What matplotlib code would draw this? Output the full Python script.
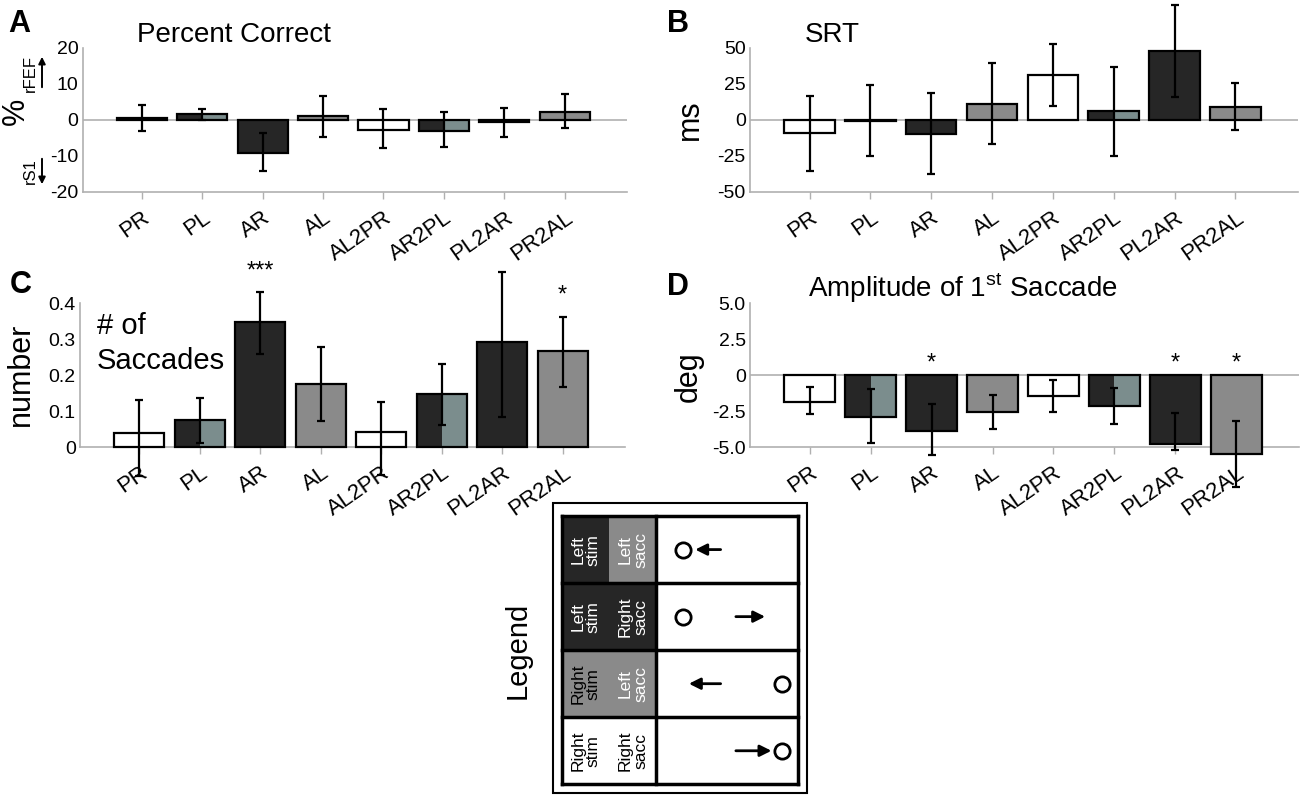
import matplotlib
matplotlib.use('Agg')
import matplotlib.pyplot as plt
import numpy as np

plt.rcParams['font.family'] = ['Liberation Sans', 'DejaVu Sans']
plt.rcParams['mathtext.fontset'] = 'custom'
plt.rcParams['mathtext.rm'] = 'Liberation Sans'

conds = ['PR', 'PL', 'AR', 'AL', 'AL2PR', 'AR2PL', 'PL2AR', 'PR2AL']
kinds = ['white', 'split', 'dark', 'gray', 'white', 'split', 'dark', 'gray']

# A: percent correct (%)
pc_val = [0.5, 1.6, -9.3, 1.1, -2.8, -3.0, -0.6, 2.1]
pc_lo = [3.5, 1.5, 4.8, 5.9, 4.9, 4.4, 4.1, 4.4]
pc_hi = [3.7, 1.5, 5.6, 5.7, 5.8, 5.1, 3.9, 5.2]
pc_ticks = [-20, -10, 0, 10, 20]

# B: SRT (ms)
srt_val = [-9.3, -0.8, -9.5, 11.4, 31.0, 6.0, 48.0, 9.0]
srt_lo = [26, 24, 28, 28, 21.5, 30.8, 32, 15.8]
srt_hi = [26.3, 24.8, 28.5, 28.3, 22, 30.8, 32, 16.7]
srt_ticks = [-50, -25, 0, 25, 50]

# C: number of saccades
ns_val = [0.040, 0.076, 0.347, 0.176, 0.043, 0.146, 0.293, 0.268]
ns_lo = [0.12, 0.064, 0.088, 0.105, 0.12, 0.084, 0.211, 0.102]
ns_hi = [0.09, 0.059, 0.083, 0.102, 0.083, 0.084, 0.193, 0.092]
ns_ticks = [0, 0.1, 0.2, 0.3, 0.4]
ns_ticklabels = ['0', '0.1', '0.2', '0.3', '0.4']

# D: amplitude of 1st saccade (deg)
amp_val = [-1.85, -2.94, -3.89, -2.59, -1.46, -2.13, -4.77, -5.51]
amp_lo = [0.85, 1.76, 1.7, 1.18, 1.13, 1.27, 0.45, 2.24]
amp_hi = [1.04, 1.94, 1.85, 1.2, 1.11, 1.25, 2.11, 2.32]
amp_ticks = [-5, -2.5, 0, 2.5, 5]
amp_ticklabels = ['-5.0', '-2.5', '0', '2.5', '5.0']

# significance stars: (condition index, y, text)
ns_stars = [(2, 0.47, '***'), (7, 0.404, '*')]
amp_stars = [(2, 0.38, '*'), (6, 0.38, '*'), (7, 0.38, '*')]

DARK = '#262626'
GRAY = '#8a8a8a'
TEAL = '#7b8d8d'
AXC = '#b0b0b0'
fills = {'white': 'white', 'dark': DARK, 'gray': GRAY}

W, H = 1300, 796
fig = plt.figure(figsize=(13, 7.96), dpi=100)


def fx(px):
    return px / W


def fy(py):
    return 1 - py / H


def panel(rect, vals, lo, hi, ticks, ticklabels, ylim, zero=True):
    ax = fig.add_axes(rect)
    x = np.arange(len(conds))
    w = 0.83
    for i, k in enumerate(kinds):
        if k == 'split':
            ax.bar(x[i] - w / 4, vals[i], w / 2, color=DARK, edgecolor='none', clip_on=False, zorder=2)
            ax.bar(x[i] + w / 4, vals[i], w / 2, color=TEAL, edgecolor='none', clip_on=False, zorder=2)
            ax.bar(x[i], vals[i], w, fill=False, edgecolor='black', lw=1.6, clip_on=False, zorder=3)
        else:
            ax.bar(x[i], vals[i], w, color=fills[k], edgecolor='black', lw=1.6, clip_on=False, zorder=3)
    eb = ax.errorbar(x, vals, yerr=[lo, hi], fmt='none', ecolor='black', elinewidth=1.6,
                     capsize=3, capthick=1.6, zorder=4)
    for a in eb.lines[1]:
        a.set_clip_on(False)
    for a in eb.lines[2]:
        a.set_clip_on(False)
    if zero:
        ax.axhline(0, color=AXC, lw=1.2, zorder=1)
    ax.set_xlim(-0.98, 8.03)
    ax.set_ylim(*ylim)
    ax.set_yticks(ticks)
    ax.set_yticklabels(ticklabels, fontsize=14)
    ax.set_xticks(x)
    ax.set_xticklabels(conds, fontsize=16, rotation=35, ha='right', rotation_mode='anchor')
    for s in ['top', 'right']:
        ax.spines[s].set_visible(False)
    for s in ['left', 'bottom']:
        ax.spines[s].set_color(AXC)
        ax.spines[s].set_linewidth(1.2)
    ax.tick_params(axis='both', colors=AXC, labelcolor='black', length=5, width=1)
    ax.tick_params(axis='x', pad=6)
    ax.tick_params(axis='y', length=0, pad=3)
    return ax


axA = panel([fx(82.5), fy(192), fx(627) - fx(82.5), (192 - 48) / H],
            pc_val, pc_lo, pc_hi, pc_ticks, [str(t) for t in pc_ticks], (-20, 20))
axB = panel([fx(750), fy(192), fx(1298) - fx(750), (192 - 48) / H],
            srt_val, srt_lo, srt_hi, srt_ticks, [str(t) for t in srt_ticks], (-50, 50))
axC = panel([fx(80), fy(447), fx(625) - fx(80), (447 - 303) / H],
            ns_val, ns_lo, ns_hi, ns_ticks, ns_ticklabels, (0, 0.4), zero=False)
axD = panel([fx(750), fy(447), fx(1299) - fx(750), (447 - 303) / H],
            amp_val, amp_lo, amp_hi, amp_ticks, amp_ticklabels, (-5, 5))

for i, y, s in ns_stars:
    axC.text(i, y, s, ha='center', va='baseline', fontsize=17, clip_on=False)
for i, y, s in amp_stars:
    axD.text(i, y, s, ha='center', va='baseline', fontsize=17, clip_on=False)

axC.text(-0.7, 0.376, '# of\nSaccades', ha='left', va='top', fontsize=21, linespacing=1.35)

# panel letters and titles
for px, py, s in [(8, 32, 'A'), (667, 32, 'B'), (10, 293, 'C'), (667, 295, 'D')]:
    fig.text(fx(px), fy(py), s, fontsize=22, fontweight='bold', ha='left', va='baseline')
fig.text(fx(137), fy(42), 'Percent Correct', fontsize=20, ha='left', va='baseline')
fig.text(fx(805), fy(42), 'SRT', fontsize=20, ha='left', va='baseline')
fig.text(fx(808), fy(297), r'Amplitude of 1$^{\mathrm{st}}$ Saccade', fontsize=20, ha='left', va='baseline')

# y labels
fig.text(fx(16), fy(111), '%', fontsize=22, rotation=90, ha='center', va='center')
fig.text(fx(690), fy(120), 'ms', fontsize=22, rotation=90, ha='center', va='center')
fig.text(fx(21), fy(374), 'number', fontsize=22, rotation=90, ha='center', va='center')
fig.text(fx(689), fy(377), 'deg', fontsize=22, rotation=90, ha='center', va='center')

# rFEF / rS1 direction hints
fig.text(fx(30), fy(74), 'rFEF', fontsize=12, rotation=90, ha='center', va='center')
fig.text(fx(30), fy(171), 'rS1', fontsize=12, rotation=90, ha='center', va='center')
fig.patches.append(matplotlib.patches.FancyArrowPatch((fx(42), fy(90)), (fx(42), fy(54)),
                   transform=fig.transFigure, arrowstyle='-|>', mutation_scale=10, lw=1.4, color='black'))
fig.patches.append(matplotlib.patches.FancyArrowPatch((fx(42), fy(156)), (fx(42), fy(187)),
                   transform=fig.transFigure, arrowstyle='-|>', mutation_scale=10, lw=1.4, color='black'))

# legend schematic
fig.text(fx(518), fy(650), 'Legend', fontsize=21, rotation=90, ha='center', va='center')
lg = fig.add_axes([fx(553), fy(793), fx(807) - fx(553), (793 - 503) / H])
lg.set_xlim(0, 1)
lg.set_ylim(1, 0)
lg.axis('off')
lg.add_patch(plt.Rectangle((0, 0), 1, 1, fill=False, lw=1.5, ec='black', transform=lg.transAxes, clip_on=False))

rows = [(DARK, GRAY, 'Left\nstim', 'Left\nsacc', 'white', 'white', 'L', 'left'),
        (DARK, DARK, 'Left\nstim', 'Right\nsacc', 'white', 'white', 'L', 'right'),
        (GRAY, GRAY, 'Right\nstim', 'Left\nsacc', 'black', 'white', 'R', 'left'),
        ('white', 'white', 'Right\nstim', 'Right\nsacc', 'black', 'black', 'R', 'right')]
x0, x1, xs, xd = 0.035, 0.963, 0.222, 0.407
y0, y1 = 0.045, 0.97
rh = (y1 - y0) / 4
for r, (c1, c2, t1, t2, tc1, tc2, stim, sacc) in enumerate(rows):
    top = y0 + r * rh
    lg.add_patch(plt.Rectangle((x0, top), xs - x0, rh, color=c1, lw=0))
    lg.add_patch(plt.Rectangle((xs, top), xd - xs, rh, color=c2, lw=0))
    lg.text((x0 + xs) / 2, top + rh / 2, t1, color=tc1, fontsize=12.5, rotation=90,
            ha='center', va='center', linespacing=1.05)
    lg.text((xs + xd) / 2, top + rh / 2, t2, color=tc2, fontsize=12.5, rotation=90,
            ha='center', va='center', linespacing=1.05)
    cx = 0.51 if stim == 'L' else 0.9
    lg.plot(cx, top + rh / 2, 'o', ms=11, mfc='white', mec='black', mew=2)
    if sacc == 'left':
        a0, a1 = (0.66, 0.56) if stim == 'L' else (0.66, 0.535)
    else:
        a0, a1 = (0.72, 0.835) if stim == 'L' else (0.72, 0.86)
    lg.annotate('', xy=(a1, top + rh / 2), xytext=(a0, top + rh / 2),
                arrowprops=dict(arrowstyle='-|>', lw=2, color='black', mutation_scale=17,
                                shrinkA=0, shrinkB=0))
    lg.plot([x0, x1], [top, top], color='black', lw=2.5)
lg.plot([x0, x1], [y1, y1], color='black', lw=2.5)
lg.plot([x0, x0], [y0, y1], color='black', lw=2.5)
lg.plot([xd, xd], [y0, y1], color='black', lw=2.5)
lg.plot([x1, x1], [y0, y1], color='black', lw=2.5)

fig.savefig('out.png', dpi=100)
